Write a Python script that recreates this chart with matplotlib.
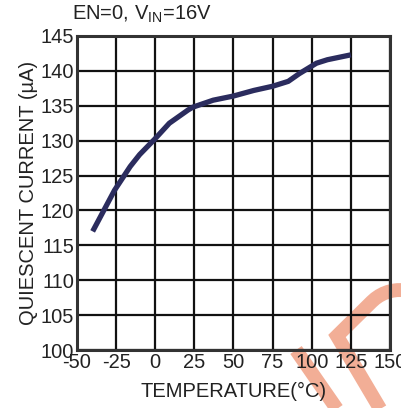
import numpy as np
import matplotlib
matplotlib.use("Agg")
from matplotlib import pyplot as plt
from matplotlib.lines import Line2D

plt.rcParams['font.family'] = ['Liberation Sans', 'DejaVu Sans']
plt.rcParams['axes.unicode_minus'] = False

# quiescent current vs temperature (EN=0, VIN=16V)
temp = [-40, -26, -16, -10, 0, 9, 21, 24, 37, 50, 63, 75, 85, 92, 103, 110, 125]
iq = [117.0, 122.9, 126.3, 128.0, 130.3, 132.5, 134.4, 134.8, 135.8, 136.4,
      137.2, 137.8, 138.5, 139.6, 141.1, 141.6, 142.3]

xticks = [-50, -25, 0, 25, 50, 75, 100, 125, 150]
yticks = [100, 105, 110, 115, 120, 125, 130, 135, 140, 145]

W, H = 402, 408
fig = plt.figure(figsize=(W / 100, H / 100), dpi=100)
fig.patch.set_facecolor('white')

# watermark strokes behind the axes (pixel coords, y down)
wm = '#f2ae96'
def px(pts):
    return [p[0] / W for p in pts], [1 - p[1] / H for p in pts]
ang = np.radians(np.linspace(135, 60, 12))
arc = [(400 + 40 * np.cos(a), 330 - 40 * np.sin(a)) for a in ang]
for pts in ([(382, 412), (337, 336)] + arc,
            [(296, 350), (339, 412)]):
    xs, ys = px(pts)
    fig.add_artist(Line2D(xs, ys, color=wm, lw=10, solid_joinstyle='miter',
                          solid_capstyle='butt', zorder=-1))

ax = fig.add_axes([77 / W, 1 - 350 / H, 313 / W, 314 / H])
ax.set_facecolor('none')
ax.plot(temp, iq, color='#2b2c5e', lw=3.8, solid_capstyle='butt', zorder=3)

ax.set_xlim(-50, 150)
ax.set_ylim(100, 145)
ax.set_xticks(xticks)
ax.set_yticks(yticks)
ax.tick_params(length=0, labelsize=14.5, colors='#222222', pad=2)
ax.grid(True, color='#111111', lw=1.6)
for s in ax.spines.values():
    s.set_color('#333333')
    s.set_linewidth(2.2)
    s.set_zorder(4)

ax.set_xlabel('TEMPERATURE(°C)', fontsize=14.5, color='#222222', labelpad=7)
ax.set_ylabel('QUIESCENT CURRENT (µA)', fontsize=14.5, color='#222222', labelpad=2)
fig.text(72 / W, 1 - 14 / H, 'EN=0, V$_{\\mathregular{IN}}$=16V', fontsize=14.5,
         color='#222222', va='center', ha='left')

fig.savefig('out.png', dpi=100)
